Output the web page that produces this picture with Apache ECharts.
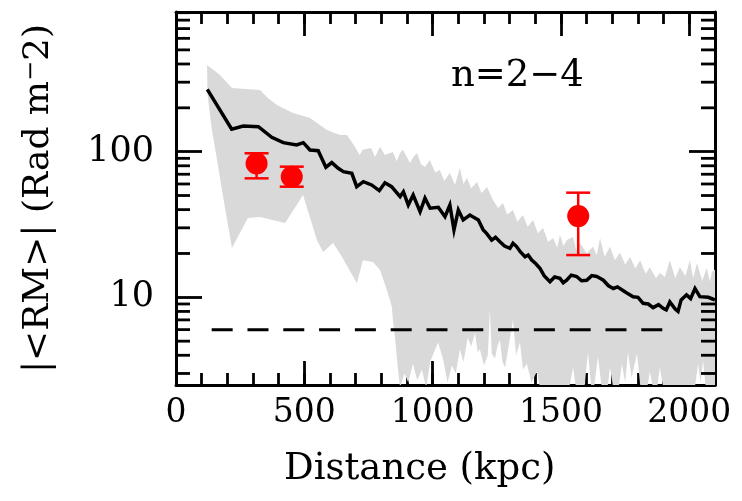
<!DOCTYPE html>
<html><head><meta charset="utf-8">
<script src="https://cdn.jsdelivr.net/npm/echarts@6/dist/echarts.min.js"></script>
<style>html,body{margin:0;padding:0;background:#fff}#c{width:742px;height:501px}</style>
</head><body><div id="c"></div>
<script>
// ---- data ----
const xTickLabels = ['0', '500', '1000', '1500', '2000'];
const yTickLabels = ['10', '100'];
const yMinorTicks = [3, 4, 5, 6, 7, 8, 9, 20, 30, 40, 50, 60, 70, 80, 90, 200, 300, 400, 500, 600, 700, 800, 900];

// mean |<RM>| profile: [distance kpc, RM]
const meanProfile = [[122, 268], [217, 142.5], [262, 150], [321, 148.5], [373, 125.6], [418, 115.3], [470, 111.2], [496, 115.3], [522, 102.7], [554, 101.6], [584, 78.2], [607, 84.1], [632, 76.9], [652, 72.9], [685, 71.0], [704, 57.5], [730, 62.2], [762, 59.1], [792, 54.0], [814, 61.2], [840, 57.5], [873, 49.1], [886, 53.1], [905, 43.0], [924, 50.4], [951, 38.7], [970, 47.9], [990, 40.9], [1022, 41.5], [1048, 35.8], [1067, 43.0], [1083, 29.0], [1100, 39.8], [1119, 34.0], [1145, 36.7], [1178, 34.0], [1197, 29.0], [1210, 27.5], [1230, 24.7], [1245, 25.8], [1262, 24.1], [1280, 22.5], [1301, 21.7], [1313, 23.5], [1327, 22.3], [1342, 20.5], [1360, 19.0], [1372, 19.5], [1386, 18.0], [1402, 17.0], [1418, 15.8], [1435, 14.0], [1457, 12.8], [1475, 13.8], [1496, 13.5], [1509, 12.6], [1522, 13.1], [1540, 14.2], [1561, 13.9], [1580, 13.0], [1600, 13.1], [1620, 14.1], [1639, 13.9], [1652, 13.5], [1665, 13.1], [1685, 12.0], [1704, 11.5], [1720, 11.8], [1743, 11.1], [1760, 10.6], [1781, 10.1], [1800, 10.0], [1820, 9.1], [1840, 9.0], [1859, 8.5], [1880, 8.9], [1898, 8.4], [1910, 8.2], [1924, 9.3], [1945, 8.3], [1956, 8.0], [1968, 9.6], [1989, 10.4], [2005, 9.8], [2022, 11.5], [2041, 10.1], [2074, 10.0], [2093, 9.7], [2100, 9.6]];

// grey band, upper edge: [distance, RM]
const bandUpper = [[121, 394], [171, 336], [218, 274], [327, 265], [358, 234], [393, 209], [456, 184], [522, 170], [588, 141], [639, 130], [666, 130], [697, 108], [715, 95], [728, 103], [760, 106], [775, 92], [795, 108], [814, 95], [845, 99.5], [860, 86], [873, 98], [884, 103], [912, 83.6], [925, 92], [939, 98], [955, 82], [970, 78.5], [989, 87.7], [1010, 72], [1028, 74.9], [1045, 63], [1067, 71.4], [1087, 59], [1106, 77.3], [1120, 60], [1134, 66], [1150, 56], [1173, 62], [1190, 52], [1212, 57.2], [1235, 46.6], [1255, 41], [1274, 44.4], [1290, 37], [1313, 39.8], [1330, 33], [1352, 36.7], [1370, 30.5], [1391, 34], [1410, 27.5], [1430, 29.9], [1450, 24], [1469, 25.5], [1485, 22], [1496, 26.8], [1510, 22.5], [1523, 24.7], [1547, 25.9], [1560, 21], [1574, 23.6], [1600, 20], [1624, 22.2], [1640, 19.5], [1652, 25.5], [1670, 19], [1691, 22.2], [1710, 18], [1730, 20.2], [1750, 16.8], [1769, 18.9], [1790, 15.8], [1808, 18.0], [1830, 14.5], [1846, 16.1], [1870, 13.5], [1885, 14.7], [1905, 13.8], [1924, 18.0], [1945, 13.5], [1963, 16.1], [1985, 14], [2002, 18.0], [2015, 13.5], [2030, 17.2], [2050, 13], [2068, 15.9], [2080, 12.8], [2088, 14.9], [2100, 15.5]];

// grey band, lower edge: [distance, RM] (values under 2.5 fall below the axis)
const bandLower = [[123, 245], [140, 141], [160, 87.7], [179, 54.6], [218, 21.8], [280, 35], [327, 35.6], [425, 32.4], [495, 50.4], [549, 24.7], [573, 20.5], [612, 23.6], [647, 18.9], [705, 12.5], [728, 18], [767, 17.5], [795, 15.4], [822, 11.2], [841, 8.6], [845, 7.0], [853, 5.34], [865, 3.17], [873, 2.4], [890, 3.0], [905, 2.6], [923, 3.5], [940, 2.7], [958, 3.2], [975, 2.4], [990, 3.6], [1005, 4.2], [1021, 4.9], [1040, 3.8], [1058, 2.6], [1075, 3.4], [1090, 3.0], [1106, 4.4], [1120, 3.6], [1137, 5.3], [1150, 4.6], [1165, 5.7], [1175, 4.2], [1184, 4.4], [1200, 3.4], [1215, 4.0], [1223, 8.2], [1230, 4.1], [1243, 3.8], [1252, 4.6], [1262, 5.1], [1272, 3.6], [1282, 3.3], [1295, 4.5], [1313, 7.0], [1325, 4.0], [1340, 4.9], [1352, 3.2], [1367, 3.5], [1385, 2.6], [1406, 3.1], [1420, 2.3], [1530, 2.3], [1547, 3.3], [1560, 2.3], [1590, 2.3], [1605, 4.2], [1618, 2.4], [1630, 2.5], [1644, 3.9], [1660, 2.3], [1680, 2.3], [1691, 3.3], [1705, 2.3], [1725, 2.4], [1737, 3.5], [1750, 2.6], [1761, 4.2], [1775, 2.8], [1796, 4.1], [1810, 2.4], [1835, 2.3], [1846, 3.1], [1860, 2.3], [1875, 2.4], [1885, 3.3], [1900, 2.3], [2020, 2.3], [2034, 3.5], [2044, 2.6], [2053, 3.7], [2065, 2.3], [2100, 2.3]];

const obsX = [314, 451, 1567];
const obsY = [83, 67.3, 36.1];
const obsLow = [65.6, 57.5, 19.5];
const obsHigh = [97.5, 78.9, 52.3];

const floorX = [139, 1896];
const floorY = [6, 6];

const panelLabel = 'n=2\u22124';
const xTitle = 'Distance (kpc)';

// ---- chart ----
const FONT = 'DejaVu Serif';
const X_MIN = 0, X_MAX = 2100, Y_MIN = 2.5, Y_MAX = 910;
const chart = echarts.init(document.getElementById('c'), null, {renderer: 'canvas'});

const axisLineStyle = {show: true, onZero: false, lineStyle: {color: '#000', width: 3}};
const tickStyle = {color: '#000', width: 2.8};

function xAxisDef(pos, interval, len, withLine, withLabel) {
  return {
    type: 'value', position: pos, min: X_MIN, max: X_MAX, interval: interval,
    axisLine: withLine ? axisLineStyle : {show: false},
    axisTick: {show: true, inside: true, length: len, lineStyle: tickStyle},
    axisLabel: withLabel ? {
      show: true, margin: 12, color: '#000', fontFamily: FONT, fontSize: 33,
      formatter: v => xTickLabels.indexOf(String(v)) >= 0 ? String(v) : ''
    } : {show: false},
    splitLine: {show: false}
  };
}

const option = {
  animation: false,
  backgroundColor: '#fff',
  grid: {left: 176, top: 12, right: 27, bottom: 116, containLabel: false},
  title: [
    {
      text: panelLabel, left: 446, top: 53,
      textStyle: {fontFamily: FONT, fontSize: 37, fontWeight: 'normal', color: '#000'}
    },
    {
      text: xTitle, left: 279, top: 446,
      textStyle: {fontFamily: FONT, fontSize: 37, fontWeight: 'normal', color: '#000'}
    }
  ],
  xAxis: [
    xAxisDef('bottom', 100, 12, true, false),
    xAxisDef('bottom', 500, 24, false, true),
    xAxisDef('top', 100, 12, true, false),
    xAxisDef('top', 500, 24, false, false)
  ],
  yAxis: [
    {
      type: 'log', logBase: 10, position: 'left', min: Y_MIN, max: Y_MAX,
      axisLine: axisLineStyle,
      axisTick: {show: true, inside: true, length: 26, lineStyle: tickStyle},
      axisLabel: {
        show: true, margin: 22, color: '#000', fontFamily: FONT, fontSize: 35,
        formatter: v => yTickLabels.indexOf(String(v)) >= 0 ? String(v) : ''
      },
      splitLine: {show: false},
      name: '{a||<RM>| (Rad m}{s|\u2212}{a|2)}',
      nameLocation: 'middle', nameGap: 118,
      nameTextStyle: {
        color: '#000',
        rich: {
          a: {fontFamily: FONT, fontSize: 36, color: '#000'},
          s: {fontFamily: FONT, fontSize: 24, color: '#000', verticalAlign: 'top', padding: [0, 0, 14, 0]}
        }
      }
    },
    {
      type: 'log', logBase: 10, position: 'right', min: Y_MIN, max: Y_MAX,
      axisLine: axisLineStyle,
      axisTick: {show: true, inside: true, length: 26, lineStyle: tickStyle},
      axisLabel: {show: false},
      splitLine: {show: false}
    }
  ],
  series: [
    {
      type: 'custom', name: 'band', xAxisIndex: 0, yAxisIndex: 0, clip: true, silent: true, z: 1,
      data: [bandUpper[0]],
      renderItem: function (params, api) {
        const pts = [];
        for (let i = 0; i < bandUpper.length; i++) pts.push(api.coord(bandUpper[i]));
        for (let i = bandLower.length - 1; i >= 0; i--) pts.push(api.coord(bandLower[i]));
        return {type: 'polygon', shape: {points: pts}, style: {fill: '#d9d9d9', stroke: null}};
      }
    },
    {
      type: 'line', name: 'floor', xAxisIndex: 0, yAxisIndex: 0, z: 3, silent: true,
      data: floorX.map((x, i) => [x, floorY[i]]),
      showSymbol: false, symbol: 'none',
      lineStyle: {color: '#000', width: 3, type: [21, 14.8]}
    },
    {
      type: 'line', name: 'mean', xAxisIndex: 0, yAxisIndex: 0, z: 4, silent: true,
      data: meanProfile,
      showSymbol: false, symbol: 'none',
      lineStyle: {color: '#000', width: 3.5, join: 'miter'}
    },
    {
      type: 'custom', name: 'errors', xAxisIndex: 0, yAxisIndex: 0, z: 5, silent: true,
      data: obsX.map((x, i) => [x, obsLow[i], obsHigh[i]]),
      encode: {x: 0, y: [1, 2]},
      renderItem: function (params, api) {
        const lo = api.coord([api.value(0), api.value(1)]);
        const hi = api.coord([api.value(0), api.value(2)]);
        const hw = 12;
        const st = {stroke: '#ff0000', lineWidth: 2.5};
        return {type: 'group', children: [
          {type: 'line', shape: {x1: lo[0], y1: lo[1], x2: hi[0], y2: hi[1]}, style: st},
          {type: 'line', shape: {x1: lo[0] - hw, y1: lo[1], x2: lo[0] + hw, y2: lo[1]}, style: st},
          {type: 'line', shape: {x1: hi[0] - hw, y1: hi[1], x2: hi[0] + hw, y2: hi[1]}, style: st}
        ]};
      }
    },
    {
      type: 'scatter', name: 'obs', xAxisIndex: 0, yAxisIndex: 0, z: 6, silent: true,
      data: obsX.map((x, i) => [x, obsY[i]]),
      symbol: 'circle', symbolSize: 22,
      itemStyle: {color: '#ff0000', opacity: 1}
    },
    {
      type: 'custom', name: 'yMinor', xAxisIndex: 0, yAxisIndex: 0, z: 7, silent: true, clip: false,
      data: yMinorTicks.filter(v => v > Y_MIN && v < Y_MAX).map(v => [X_MIN, v]),
      renderItem: function (params, api) {
        const l = api.coord([X_MIN, api.value(1)]);
        const r = api.coord([X_MAX, api.value(1)]);
        const st = {stroke: '#000', lineWidth: 2.8};
        return {type: 'group', children: [
          {type: 'line', shape: {x1: l[0], y1: l[1], x2: l[0] + 14, y2: l[1]}, style: st},
          {type: 'line', shape: {x1: r[0], y1: r[1], x2: r[0] - 14, y2: r[1]}, style: st}
        ]};
      }
    }
  ]
};
chart.setOption(option);
</script>
</body></html>
